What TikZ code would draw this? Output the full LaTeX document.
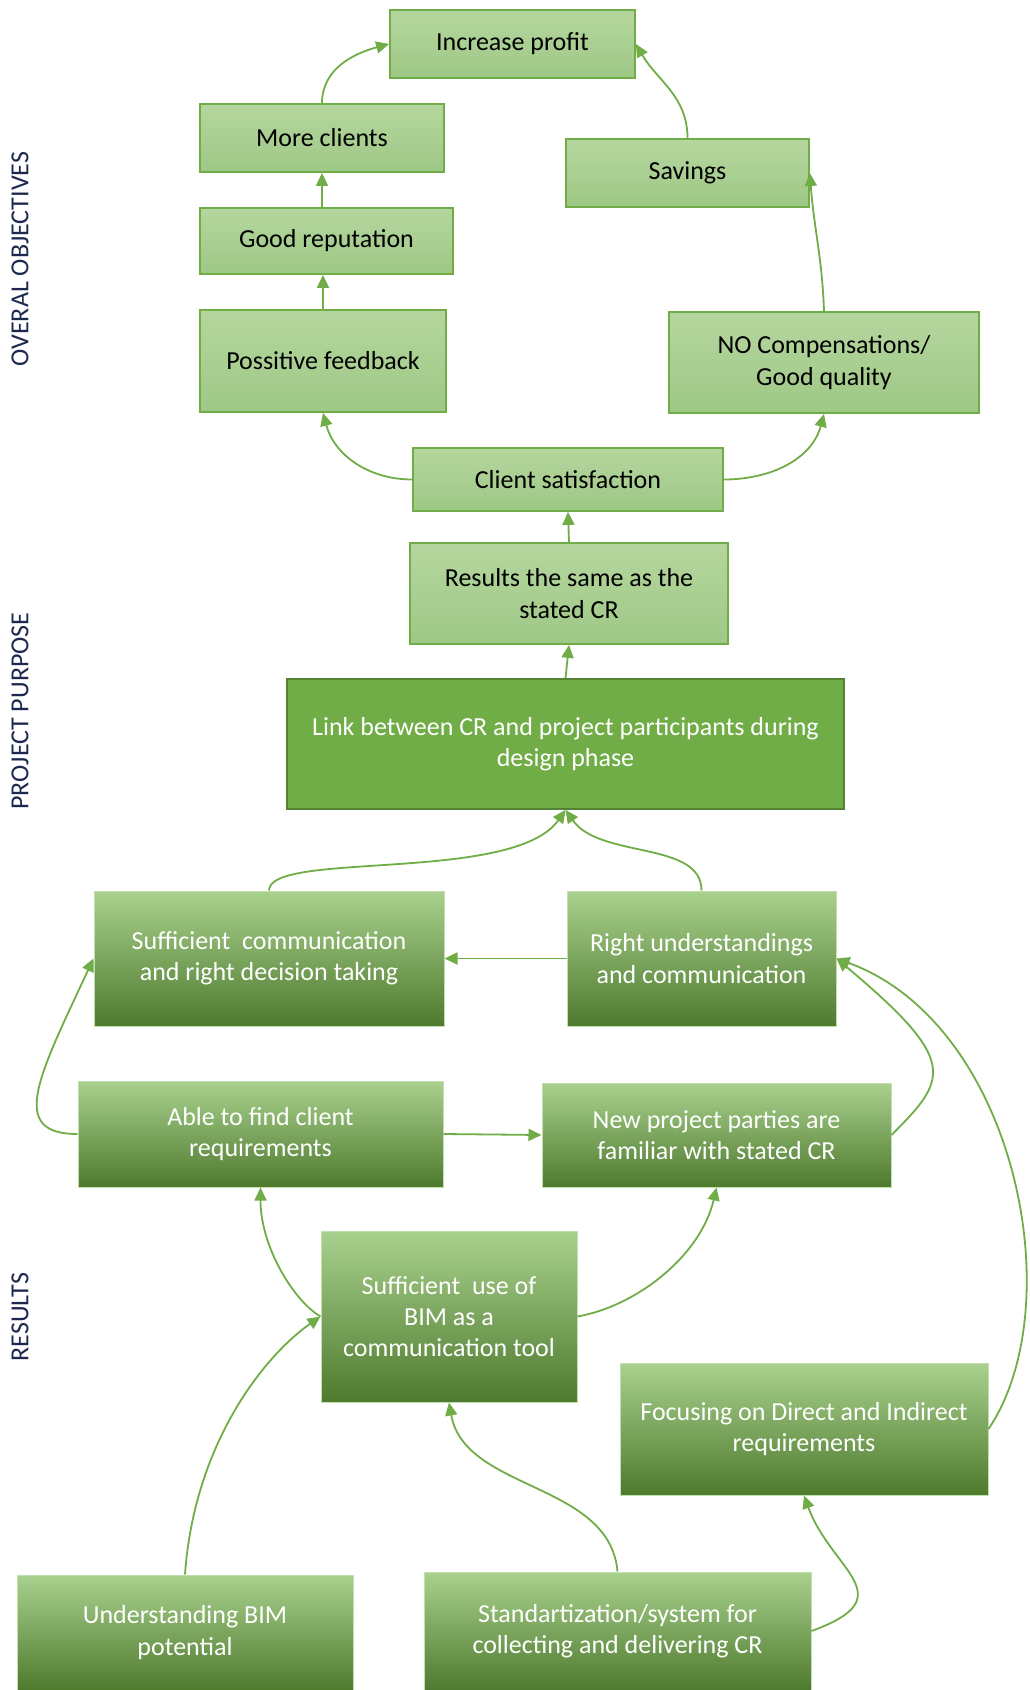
\documentclass[tikz,border=0pt]{standalone}
\usepackage{fontspec}
\setmainfont{Carlito}
\usetikzlibrary{arrows.meta}
\definecolor{ogreen}{RGB}{112,173,71}
\definecolor{odark}{RGB}{84,130,53}
\definecolor{olighttop}{RGB}{181,214,158}
\definecolor{olightbot}{RGB}{158,200,134}
\definecolor{orestop}{RGB}{169,209,142}
\definecolor{oresbot}{RGB}{78,122,46}
\definecolor{onavy}{RGB}{28,40,78}
\tikzset{
  box/.style={rectangle, align=center, inner sep=2pt, line width=0.9pt,
              font=\fontsize{13}{15.7}\selectfont},
  goalbox/.style={box, draw=ogreen, top color=olighttop, bottom color=olightbot,
                  text=black},
  purposebox/.style={box, draw=odark, fill=ogreen, text=white},
  resultbox/.style={box, draw=orestop!70, line width=0.5pt, top color=orestop,
                    middle color=ogreen, bottom color=oresbot, text=white},
  arrow/.style={-{Triangle[length=6.5pt,width=6pt]}, line width=0.9pt, draw=ogreen},
  sidelabel/.style={rotate=90, font=\fontsize{13}{15}\selectfont, text=onavy},
}
\begin{document}
\begin{tikzpicture}[x=0.5pt,y=0.5pt]
\useasboundingbox[fill=white] (0,0) rectangle (1029,-1690);

% ================= side labels =================
\node[sidelabel] (lobj) at (20,-259) {OVERAL OBJECTIVES};
\node[sidelabel] (lpur) at (20,-711) {PROJECT PURPOSE};
\node[sidelabel] (lres) at (20,-1317) {RESULTS};

% ================= overal objectives =================
\node[goalbox, minimum width=122.5pt, minimum height=34pt] (profit) at (512.5,-44) {Increase profit};
\node[goalbox, minimum width=122pt, minimum height=34pt] (clients) at (322,-138) {More clients};
\node[goalbox, minimum width=121.5pt, minimum height=34pt] (savings) at (687.5,-173) {Savings};
\node[goalbox, minimum width=126.5pt, minimum height=33pt] (reput) at (326.5,-241) {Good reputation};
\node[goalbox, minimum width=123pt, minimum height=51pt] (feedback) at (323,-361) {Possitive feedback};
\node[goalbox, minimum width=155pt, minimum height=50.5pt] (nocomp) at (824,-362.5)
  {NO Compensations/\\Good quality};
\node[goalbox, minimum width=155pt, minimum height=31.5pt] (satisf) at (568,-479.5) {Client satisfaction};

% ================= project purpose =================
\node[goalbox, minimum width=159pt, minimum height=50.5pt] (results) at (569,-593.5)
  {Results the same as the\\stated CR};
\node[purposebox, minimum width=278.5pt, minimum height=65pt] (link) at (565.5,-744)
  {Link between CR and project participants during\\design phase};

% ================= results =================
\node[resultbox, minimum width=175pt, minimum height=67.5pt] (suffcomm) at (269,-958.5)
  {Sufficient\ \ communication\\and right decision taking};
\node[resultbox, minimum width=134.5pt, minimum height=67.5pt] (rightund) at (701.5,-958.5)
  {Right understandings\\and communication};
\node[resultbox, minimum width=182.5pt, minimum height=53pt] (able) at (260.5,-1134)
  {Able to find client\\requirements};
\node[resultbox, minimum width=174.5pt, minimum height=52pt] (newparty) at (716.5,-1135)
  {New project parties are\\familiar with stated CR};
\node[resultbox, minimum width=128pt, minimum height=85.5pt] (bimuse) at (449,-1316.5)
  {Sufficient\ \ use of\\BIM as a\\communication tool};
\node[resultbox, minimum width=184pt, minimum height=66pt] (focus) at (804,-1429)
  {Focusing on Direct and Indirect\\requirements};
\node[resultbox, minimum width=168pt, minimum height=57.5pt] (bimpot) at (185,-1632.5)
  {Understanding BIM\\potential};
\node[resultbox, minimum width=193.5pt, minimum height=59pt] (standard) at (617.5,-1631)
  {Standartization/system for\\collecting and delivering CR};

% ================= connectors: objectives =================
\draw[arrow] (clients.north) to[out=90, in=195] (profit.west);
\draw[arrow] (savings.north) to[out=90, in=-60] (profit.east);
\draw[arrow] (clients.south |- reput.north) -- (clients.south);
\draw[arrow] (feedback.north) -- (feedback.north |- reput.south);
\draw[arrow] (nocomp.north) to[out=92, in=-86] (savings.east);
\draw[arrow] (satisf.west) to[out=180, in=-75] (feedback.south);
\draw[arrow] (satisf.east) to[out=0, in=-105] (nocomp.south);
\draw[arrow] (results.north) -- (satisf.south);
\draw[arrow] (link.north) -- (results.south);

% ================= connectors: results =================
\draw[arrow] (suffcomm.north) to[out=90, in=-125, out distance=20pt, in distance=45pt] (link.south);
\draw[arrow] (rightund.north) to[out=90, in=-55, out distance=25pt, in distance=30pt] (link.south);
\draw[arrow] (rightund.west) -- (suffcomm.east);
\draw[arrow] (able.west) to[out=180, in=-115, out distance=35pt, in distance=65pt] (suffcomm.west);
\draw[arrow] (able.east) -- (newparty.west);
\draw[arrow] (newparty.east) to[out=45, in=-40, out distance=40pt, in distance=80pt] (rightund.east);
\draw[arrow] (focus.east) to[out=56, in=-20, out distance=75pt, in distance=95pt] (rightund.east);
\draw[arrow] (bimuse.west) to[out=150, in=-90, out distance=15pt, in distance=30pt] (able.south);
\draw[arrow] (bimuse.east) to[out=10, in=-103, out distance=30pt, in distance=35pt] (newparty.south);
\draw[arrow] (bimpot.north) to[out=86, in=-145, out distance=65pt, in distance=35pt] (bimuse.west);
\draw[arrow] (standard.north) to[out=95, in=-80, out distance=45pt, in distance=45pt] (bimuse.south);
\draw[arrow] (standard.east) to[out=20, in=-70, out distance=50pt, in distance=40pt] (focus.south);
\end{tikzpicture}
\end{document}
